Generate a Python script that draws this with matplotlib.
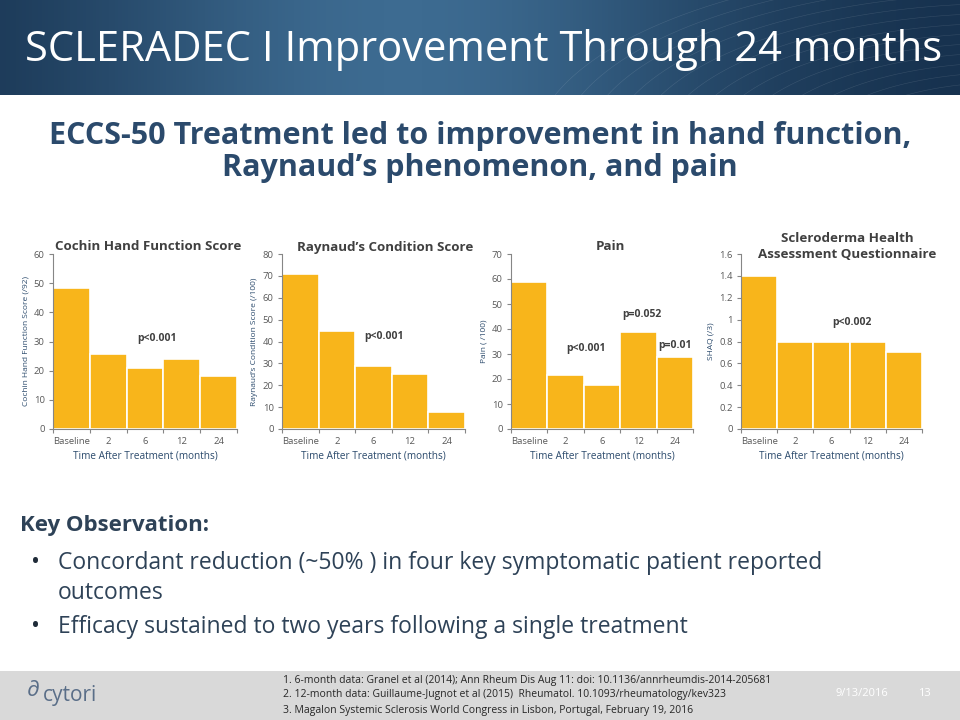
import numpy as np
import matplotlib

matplotlib.use("Agg")
import matplotlib.pyplot as plt

plt.rcParams["font.family"] = ["Open Sans", "DejaVu Sans"]

TIMES = ["Baseline", "2", "6", "12", "24"]

cochin = [48.5, 25.8, 21.0, 24.0, 18.2]
raynaud = [71.0, 45.0, 29.0, 25.0, 8.0]
pain = [59.0, 21.5, 17.5, 38.7, 29.0]
shaq = [1.4, 0.8, 0.8, 0.8, 0.7]

W, H = 960, 720
BAR = "#F8B51B"
TICK = "#595959"
TITLE = "#404040"
NAVY = "#2B4A6C"
BODY = "#2E4257"


def px(x, y, w, h):
    # pixel box (left, top, width, height) -> figure fraction
    return [x / W, 1 - (y + h) / H, w / W, h / H]


fig = plt.figure(figsize=(9.6, 7.2), dpi=100)

# header band
hdr = fig.add_axes(px(0, 0, W, 95))
xx = np.linspace(0, 1, 300)
grad = np.exp(-((xx - 0.42) / 0.35) ** 2)
hdr.imshow(grad[None, :], aspect="auto", cmap=matplotlib.colors.LinearSegmentedColormap.from_list(
    "hdr", ["#17324F", "#3D6B91"]), extent=[0, 1, 0, 1])
for r in np.linspace(0.35, 1.1, 14):
    t = np.linspace(0, np.pi, 200)
    hdr.plot(1.05 - r * np.cos(t) * 0.45, -0.6 + r * np.sin(t) * 1.8, color="white", lw=0.4, alpha=0.12)
hdr.set_xlim(0, 1)
hdr.set_ylim(0, 1)
hdr.axis("off")
fig.text(25 / W, 1 - 50 / H, "SCLERADEC I Improvement Through 24 months", color="white",
         fontsize=30, va="center", ha="left")

fig.text(480 / W, 1 - 152 / H,
         "ECCS-50 Treatment led to improvement in hand function,\nRaynaud\u2019s phenomenon, and pain",
         color=NAVY, fontsize=22, fontweight="bold", ha="center", va="center", linespacing=1.1)


def panel(box, values, ymax, ystep, title, ylabel, notes, yfmt=None, title_y=247, title_x=None):
    ax = fig.add_axes(px(*box))
    pos = np.arange(len(values))
    ax.bar(pos, values, width=1.0, color=BAR, edgecolor="white", linewidth=1.2, zorder=2)
    ax.set_xlim(-0.5, len(values) - 0.5)
    ax.set_ylim(0, ymax)
    ax.set_yticks(np.arange(0, ymax + ystep / 2, ystep))
    if yfmt:
        ax.set_yticklabels([yfmt(v) for v in np.arange(0, ymax + ystep / 2, ystep)])
    ax.set_xticks(np.arange(-0.5, len(values), 1.0))
    ax.set_xticklabels([])
    ax.set_xticks(pos, minor=True)
    ax.set_xticklabels(TIMES, minor=True)
    ax.tick_params(axis="x", which="major", length=3, color="#868686")
    ax.tick_params(axis="x", which="minor", length=0, pad=6, labelsize=6.8, labelcolor=TICK)
    ax.tick_params(axis="y", length=3, color="#868686", labelsize=6.8, labelcolor=TICK, pad=3)
    for s in ("top", "right"):
        ax.spines[s].set_visible(False)
    for s in ("left", "bottom"):
        ax.spines[s].set_color("#868686")
        ax.spines[s].set_linewidth(0.8)
    ax.set_xlabel("Time After Treatment (months)", fontsize=7.2, color=NAVY, labelpad=3)
    ax.set_ylabel(ylabel, fontsize=6, color=NAVY, labelpad=3)
    x0, y0, w, h = box
    tx = title_x if title_x is not None else x0 + w / 2 + 8
    fig.text(tx / W, 1 - title_y / H, title, fontsize=9.6, fontweight="bold", color=TITLE,
             ha="center", va="center", linespacing=1.3)
    for (nx, ny, label) in notes:
        fig.text(nx / W, 1 - ny / H, label, fontsize=7.5, fontweight="bold", color=TITLE,
                 ha="center", va="center")
    return ax


panel((53, 254, 184, 175), cochin, 60, 10, "Cochin Hand Function Score",
      "Cochin Hand Function Score (/92)", [(157, 338, "p<0.001")], title_x=148)
panel((282, 254, 183, 175), raynaud, 80, 10, "Raynaud\u2019s Condition Score",
      "Raynaud\u2019s Condition Score (/100)", [(384, 337, "p<0.001")], title_x=385)
panel((511, 254, 182, 175), pain, 70, 10, "Pain", "Pain ( /100)",
      [(586, 348, "p<0.001"), (642, 315, "p=0.052"), (675, 345, "p=0.01")], title_x=610)
panel((741, 254, 181, 175), shaq, 1.6, 0.2, "Scleroderma Health\nAssessment Questionnaire",
      "SHAQ (/3)", [(852, 322, "p<0.002")], yfmt=lambda v: f"{v:g}", title_y=246, title_x=847)

fig.text(20 / W, 1 - 525 / H, "Key Observation:", fontsize=16, fontweight="bold", color=BODY,
         va="center", ha="left")
bullets = [
    (563, "Concordant reduction (~50% ) in four key symptomatic patient reported"),
    (593, "outcomes"),
    (627, "Efficacy sustained to two years following a single treatment"),
]
for i, (y, line) in enumerate(bullets):
    if i != 1:
        fig.text(31 / W, 1 - y / H, "\u2022", fontsize=17, color="#1F2B38", va="center", ha="left")
    fig.text(58 / W, 1 - y / H, line, fontsize=16.5, color=BODY, va="center", ha="left")

# footer
ftr = fig.add_axes(px(0, 671, W, 49))
ftr.set_facecolor("#D9D9D9")
ftr.set_xticks([])
ftr.set_yticks([])
for s in ftr.spines.values():
    s.set_visible(False)

fig.text(27 / W, 1 - 690 / H, "\u2202", fontsize=16, color="#5A6E88", style="italic",
         va="center", ha="left")
fig.text(43 / W, 1 - 696 / H, "cytori", fontsize=15, color="#5A6E88", va="center", ha="left")
refs = [
    "1. 6-month data: Granel et al (2014); Ann Rheum Dis Aug 11: doi: 10.1136/annrheumdis-2014-205681",
    "2. 12-month data: Guillaume-Jugnot et al (2015)  Rheumatol. 10.1093/rheumatology/kev323",
    "3. Magalon Systemic Sclerosis World Congress in Lisbon, Portugal, February 19, 2016",
]
for i, r in enumerate(refs):
    fig.text(283 / W, 1 - (680 + 15 * i) / H, r, fontsize=7.5, color="#262626", va="center", ha="left")
fig.text(835 / W, 1 - 693 / H, "9/13/2016", fontsize=8, color="white", va="center", ha="left")
fig.text(918 / W, 1 - 693 / H, "13", fontsize=8, color="white", va="center", ha="left")

fig.savefig("out.png", dpi=100)
